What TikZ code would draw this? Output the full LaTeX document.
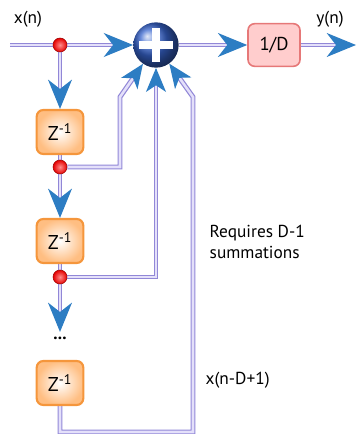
\documentclass[tikz,border=0pt]{standalone}
\usepackage{fontspec}
\setmainfont{PT Sans}
\usetikzlibrary{arrows.meta,backgrounds}
\definecolor{arrowblue}{RGB}{45,125,195}
\definecolor{pipeline}{RGB}{145,135,215}
\definecolor{pipefill}{RGB}{228,224,250}
\definecolor{sumblue}{RGB}{55,100,205}
\definecolor{boxedge}{RGB}{245,150,60}
\definecolor{boxfill}{RGB}{255,190,130}
\definecolor{divedge}{RGB}{230,120,120}
\definecolor{divfill}{RGB}{255,205,205}

\begin{document}
\begin{tikzpicture}[x=0.75pt,y=-0.75pt,
  font=\fontsize{13}{16}\selectfont,
  pipe/.style={draw=pipeline, double=pipefill, line width=0.9pt, double distance=1.9pt},
  flow/.style={pipe, -{Stealth[length=22pt,width=18pt,inset=7pt,color=arrowblue]}},
  flow short/.style={pipe, -{Stealth[length=18pt,width=15pt,inset=5pt,color=arrowblue]}},
  dot/.style={circle, draw=red!60!black, line width=0.4pt, inner color=red!45!white, outer color=red!90!black,
    minimum size=10.5pt, inner sep=0pt},
  adder/.style={circle, ball color=sumblue, minimum size=34pt, inner sep=0pt,
    path picture={\draw[white, line width=6.5pt]
      ([xshift=-12.5pt]path picture bounding box.center) -- ([xshift=12.5pt]path picture bounding box.center)
      ([yshift=-12.5pt]path picture bounding box.center) -- ([yshift=12.5pt]path picture bounding box.center);}},
  delay/.style={draw=boxedge, line width=1.6pt, rounded corners=5pt, inner color=white, outer color=boxfill,
    minimum width=35pt, minimum height=33pt, font=\fontsize{15}{17}\selectfont},
  scalebox/.style={draw=divedge, line width=1.2pt, rounded corners=5pt, fill=divfill,
    minimum width=39pt, minimum height=32pt, font=\fontsize{14}{16}\selectfont}]
  \useasboundingbox (0,0) rectangle (356,434);
  \node at (28,19) (xn) {x(n)};
  \node at (330,19) (yn) {y(n)};
  \coordinate (in) at (10,45);
  \node[dot] at (60,45) (d1) {};
  \node[adder] at (156,45) (sum) {};
  \node[scalebox] at (274,45) (div) {1/D};
  \coordinate (out) at (356,45);
  \node[delay] at (60,132) (z1) {Z\textsuperscript{-1}};
  \node[dot] at (60,167) (d2) {};
  \node[delay] at (60,241) (z2) {Z\textsuperscript{-1}};
  \node[dot] at (60,277) (d3) {};
  \node at (60,338) (gap) {\textbf{...}};
  \node[delay] at (60,383) (z3) {Z\textsuperscript{-1}};
  \coordinate (b1) at (120,97);
  \coordinate (b2) at (193,97);
  \coordinate (c1) at (193,432);
  \node[anchor=west, align=left] at (205,242) (note) {Requires D-1\\summations};
  \node[anchor=west] at (201,380) (tap) {x(n-D+1)};
  \begin{scope}[on background layer]
    \draw[pipe] (in) -- (d1);
    \draw[flow] (d1) -- (sum);
    \draw[flow] (sum) -- (div);
    \draw[flow] (div) -- (out);
    \draw[flow] (d1) -- (z1);
    \draw[pipe] (z1) -- (d2);
    \draw[flow] (d2) -- (z2);
    \draw[pipe] (z2) -- (d3);
    \draw[flow] (d3) -- (gap);
    \draw[flow short] (d2) -| (b1) -- (sum);
    \draw[flow short] (d3) -| (sum);
    \draw[flow short] (z3) |- (c1) -- (b2) -- (sum);
  \end{scope}
\end{tikzpicture}
\end{document}
